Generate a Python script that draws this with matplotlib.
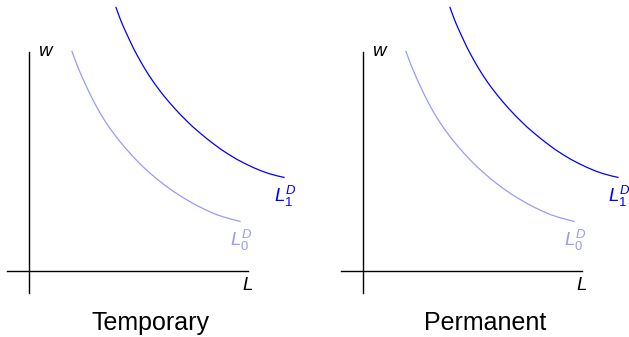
import matplotlib
matplotlib.use('Agg')
import matplotlib.pyplot as plt

plt.rcParams['font.family'] = ['Liberation Sans', 'DejaVu Sans']
plt.rcParams['mathtext.fontset'] = 'custom'
plt.rcParams['mathtext.rm'] = 'Liberation Sans'
plt.rcParams['mathtext.it'] = 'Liberation Sans:italic'

# labour demand before the shock
L0_x = [2.15, 2.25, 2.4, 2.55, 2.7, 2.85, 3.0, 3.2, 3.4, 3.6, 3.8, 4.05, 4.3, 4.55,
	4.8, 5.1, 5.4, 5.7, 6.0, 6.35, 6.7, 7.05, 7.4, 7.8, 8.2, 8.6, 9.0, 9.4,
	9.8, 10.2, 10.55]
L0_w = [10.98, 10.7, 10.3, 9.94, 9.6, 9.27, 8.95, 8.55, 8.17, 7.82, 7.5, 7.13, 6.79, 6.47,
	6.17, 5.83, 5.51, 5.21, 4.94, 4.64, 4.36, 4.1, 3.86, 3.61, 3.38, 3.17, 2.98, 2.81,
	2.68, 2.57, 2.48]

# labour demand after the shock
L1_x = [4.35, 4.45, 4.6, 4.75, 4.9, 5.05, 5.2, 5.4, 5.6, 5.8, 6.0, 6.25, 6.5, 6.75,
	7.0, 7.3, 7.6, 7.9, 8.2, 8.55, 8.9, 9.25, 9.6, 10.0, 10.4, 10.8, 11.2, 11.6,
	12.0, 12.4, 12.75]
L1_w = [13.18, 12.9, 12.5, 12.15, 11.82, 11.5, 11.18, 10.8, 10.44, 10.1, 9.78, 9.41, 9.07, 8.75,
	8.45, 8.11, 7.79, 7.49, 7.2, 6.9, 6.61, 6.34, 6.08, 5.82, 5.58, 5.37, 5.18, 5.01,
	4.87, 4.76, 4.68]

panels = ['Temporary', 'Permanent']
axis_range = (-1.1, 10.95)

light = '#9999ff'
dark = '#0000ff'

W, H = 629, 337
fig = plt.figure(figsize=(W / 100, H / 100), dpi=100)

for i, name in enumerate(panels):
	x0 = 334 * i
	ax = fig.add_axes([x0 / W, 0, 295 / W, 1])
	ax.set_xlim(-1.45, 13.3)
	ax.set_ylim(-3.3, 13.55)

	for side in ['top', 'right']:
		ax.spines[side].set_visible(False)
	for side in ['left', 'bottom']:
		ax.spines[side].set_position(('data', 0))
		ax.spines[side].set_bounds(*axis_range)
		ax.spines[side].set_linewidth(1.0)
	ax.set_xticks([])
	ax.set_yticks([])
	ax.patch.set_visible(False)

	ax.plot(L0_x, L0_w, color=light, lw=0.9, solid_joinstyle='round', clip_on=False)
	ax.plot(L1_x, L1_w, color=dark, lw=0.9, solid_joinstyle='round', clip_on=False)

	ax.text(0.85, 10.95, '$w$', fontsize=13.5, ha='center', va='center')
	ax.text(10.95, -0.7, '$L$', fontsize=13.5, ha='center', va='center')
	ax.text(10.6, 1.55, '$L_0^D$', fontsize=13.5, color=light,
		ha='center', va='center')
	ax.text(12.8, 3.75, '$L_1^D$', fontsize=13.5, color=dark,
		ha='center', va='center', clip_on=False)
	ax.text(6.1, -2.6, name, fontsize=18, ha='center', va='center')

fig.savefig('out.png', dpi=100)
